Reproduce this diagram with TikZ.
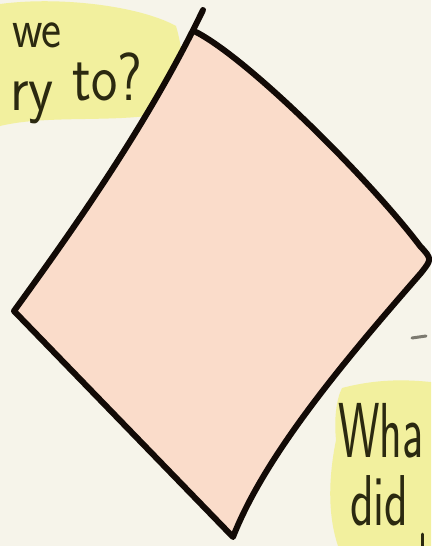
\documentclass[tikz,border=0pt]{standalone}
\usepackage{fontspec}
\usetikzlibrary{calc}
\definecolor{paperwhite}{HTML}{F6F4EA}
\definecolor{peachfill}{HTML}{FADCCA}
\definecolor{inkblack}{HTML}{120A06}
\definecolor{markeryellow}{HTML}{F1F08C}
\definecolor{inkolive}{HTML}{2B2910}
\definecolor{pencilgray}{HTML}{7C7A70}
\tikzset{
  outline/.style={line width=6pt,inkblack,line join=round,line cap=round},
  highlight/.style={fill=markeryellow,draw=none,opacity=0.8},
  scribble/.style={font=\sffamily,inkolive,inner sep=0pt,anchor=base west},
  stray/.style={line width=3pt,line cap=round}
}
\begin{document}
\begin{tikzpicture}[x=1pt, y=-1pt]
  \fill[paperwhite] (0,0) rectangle (431,546);
  \useasboundingbox (0,0) rectangle (431,546);
  % marker behind the notes
  \fill[highlight] (0,4) .. controls (60,-4) and (140,6) .. (176,26)
    .. controls (186,60) and (184,92) .. (170,112)
    .. controls (120,124) and (50,114) .. (0,126) -- cycle;
  \fill[highlight] (342,388) .. controls (380,378) and (410,380) .. (431,382)
    -- (431,546) -- (338,546) .. controls (326,510) and (330,470) .. (336,440)
    .. controls (334,420) and (336,400) .. (342,388) -- cycle;
  % the sheet
  \coordinate (tip) at (203,10);
  \coordinate (top) at (196,32);
  \coordinate (rightup) at (420,246);
  \coordinate (right) at (432,259);
  \coordinate (rightlow) at (421,273);
  \coordinate (bottom) at (233,537);
  \coordinate (left) at (14,311);
  \fill[peachfill] (top) .. controls (250,60) and (370,180) .. (rightup)
    .. controls (right) .. (rightlow)
    .. controls (345,360) and (265,455) .. (bottom) -- (left)
    .. controls (80,220) and (150,120) .. (tip) -- cycle;
  \draw[outline] (tip) .. controls (150,120) and (80,220) .. (left)
    -- (bottom) .. controls (265,455) and (345,360) .. (rightlow)
    .. controls (right) .. (rightup)
    .. controls (370,180) and (250,60) .. (top);
  % notes
  \node[scribble, font=\sffamily\fontsize{56}{56}\selectfont, xscale=0.85] (we) at (12,47) {we};
  \node[scribble, font=\sffamily\fontsize{66}{66}\selectfont, xscale=0.88] (ry) at (10,110) {ry};
  \node[scribble, font=\sffamily\fontsize{68}{68}\selectfont, xscale=0.82] (to) at (72,100) {to?};
  \node[scribble, font=\sffamily\fontsize{78}{78}\selectfont, xscale=0.6] (wha) at (338,457) {Wha};
  \node[scribble, font=\sffamily\fontsize{72}{72}\selectfont, xscale=0.68] (did) at (350,525) {did};
  \draw[stray, pencilgray] (412,338) -- (426,336);
  \draw[stray, inkolive] (422,534) -- (422,546);
\end{tikzpicture}
\end{document}
